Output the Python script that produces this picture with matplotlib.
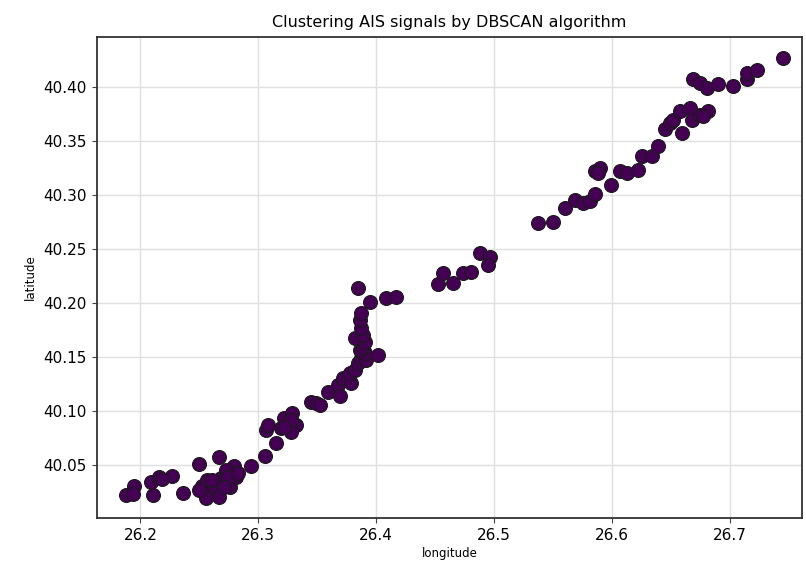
import matplotlib
matplotlib.use("Agg")
import matplotlib.pyplot as plt

# AIS positions (longitude, latitude)
longitude = [
    26.1879, 26.1949, 26.1941, 26.2104, 26.2091, 26.2161, 26.2269, 26.2187,
    26.2365, 26.2501, 26.2526, 26.2569, 26.2586, 26.2671, 26.2685, 26.2643,
    26.2756, 26.2798, 26.2812, 26.2728, 26.2940, 26.3053, 26.3067, 26.3081,
    26.3152, 26.3194, 26.3222, 26.3290, 26.3322, 26.3279, 26.3449, 26.3492,
    26.3520, 26.3587, 26.3672, 26.3689, 26.3715, 26.3789, 26.3774, 26.3817,
    26.3842, 26.3874, 26.3916, 26.3902, 26.4012, 26.3859, 26.3885, 26.3902,
    26.3817, 26.3885, 26.3874, 26.3859, 26.3874, 26.3842, 26.3944, 26.4086,
    26.4171, 26.4524, 26.4566, 26.4651, 26.4736, 26.4807, 26.4878, 26.4963,
    26.4948, 26.5373, 26.5495, 26.5599, 26.5684, 26.5755, 26.5812, 26.5854,
    26.5854, 26.5896, 26.5882, 26.5987, 26.6066, 26.6123, 26.6222, 26.6250,
    26.6335, 26.6391, 26.6448, 26.6491, 26.6519, 26.6576, 26.6590, 26.6660,
    26.6675, 26.6745, 26.6816, 26.6771, 26.6683, 26.6745, 26.6802, 26.6900,
    26.7028, 26.7142, 26.7142, 26.7227, 26.7453,
    # denser part of the south-west cluster
    26.2671, 26.2558, 26.2611, 26.2739, 26.2713, 26.2826, 26.2501,
    26.3279, 26.3222,
]
latitude = [
    40.0229, 40.0306, 40.0231, 40.0229, 40.0345, 40.0392, 40.0398, 40.0370,
    40.0241, 40.0509, 40.0306, 40.0361, 40.0241, 40.0574, 40.0380, 40.0269,
    40.0296, 40.0491, 40.0392, 40.0454, 40.0491, 40.0583, 40.0824, 40.0870,
    40.0704, 40.0843, 40.0935, 40.0981, 40.0870, 40.0808, 40.1086, 40.1074,
    40.1056, 40.1179, 40.1241, 40.1139, 40.1306, 40.1259, 40.1352, 40.1380,
    40.1444, 40.1491, 40.1472, 40.1537, 40.1519, 40.1565, 40.1595, 40.1642,
    40.1676, 40.1704, 40.1769, 40.1843, 40.1907, 40.2139, 40.2012, 40.2046,
    40.2058, 40.2176, 40.2281, 40.2182, 40.2275, 40.2290, 40.2460, 40.2429,
    40.2352, 40.2738, 40.2744, 40.2880, 40.2954, 40.2923, 40.2938, 40.3009,
    40.3216, 40.3247, 40.3201, 40.3093, 40.3216, 40.3201, 40.3231, 40.3355,
    40.3355, 40.3447, 40.3608, 40.3664, 40.3694, 40.3771, 40.3571, 40.3803,
    40.3694, 40.3741, 40.3771, 40.3725, 40.4071, 40.4034, 40.3988, 40.4028,
    40.4003, 40.4071, 40.4127, 40.4151, 40.4266,
    40.0207, 40.0194, 40.0361, 40.0392, 40.0299, 40.0426, 40.0269,
    40.0917, 40.0855,
]

fig = plt.figure(figsize=(8.06, 5.67), dpi=100)
ax = fig.add_axes([0.120, 0.086, 0.875, 0.849])

# DBSCAN put everything in one cluster -> a single viridis colour
ax.scatter(longitude, latitude, s=100, c="#440154", edgecolors="#1a1a1a",
           linewidths=0.8, zorder=3)

ax.set_xlim(26.163, 26.761)
ax.set_ylim(40.001, 40.446)
ax.set_xticks([26.2, 26.3, 26.4, 26.5, 26.6, 26.7])
ax.set_yticks([40.05, 40.10, 40.15, 40.20, 40.25, 40.30, 40.35, 40.40])
ax.set_yticklabels(["40.05", "40.10", "40.15", "40.20", "40.25", "40.30", "40.35", "40.40"])
ax.tick_params(labelsize=11, length=3.5, color="#444444")
ax.grid(True, color="#e0e0e0", linewidth=1)
ax.set_axisbelow(True)
for sp in ax.spines.values():
    sp.set_linewidth(1.3)
    sp.set_color("#333333")

ax.set_title("Clustering AIS signals by DBSCAN algorithm", fontsize=11.5, pad=7)
ax.set_xlabel("longitude", fontsize=8.5, labelpad=3)
ax.set_ylabel("latitude", fontsize=8.5, labelpad=5)

plt.savefig("out.png", dpi=100)
